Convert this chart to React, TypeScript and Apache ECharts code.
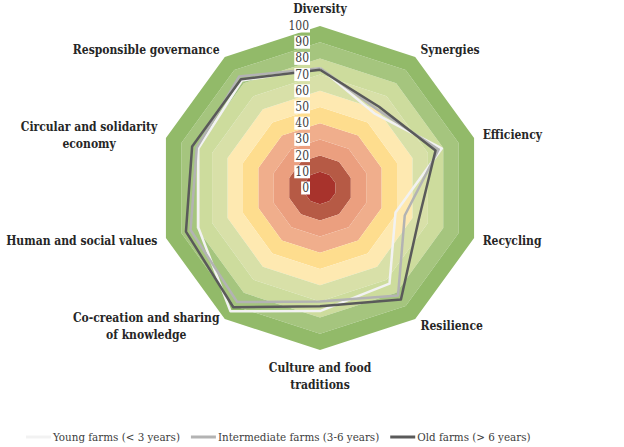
import React, { useEffect, useRef } from "react";
import * as echarts from "echarts";

const indicatorNames = [
  "Diversity",
  "Synergies",
  "Efficiency",
  "Recycling",
  "Resilience",
  "Culture and food\ntraditions",
  "Co-creation and sharing\nof knowledge",
  "Human and social values",
  "Circular and solidarity\neconomy",
  "Responsible governance",
];
const seriesNames = [
  "Young farms (< 3 years)",
  "Intermediate farms (3-6 years)",
  "Old farms (> 6 years)",
];
const young = [74, 57, 79, 49, 73, 76, 94, 79, 79, 82];
const intermediate = [74, 60, 77, 55, 82, 70, 87, 84, 80, 85];
const old = [73, 62, 75, 64, 85, 73, 91, 87, 83, 83];
const seriesColors = ["#f2f2f2", "#b3b3b3", "#5a5a5a"];
const bandColors = [
  "#a8332c",
  "#b65a45",
  "#eb9f7f",
  "#f0ae8c",
  "#fedd8e",
  "#fee9b1",
  "#d8e0a8",
  "#cddc9d",
  "#a5c57e",
  "#92ba69",
];
const scaleMax = 100;
const scaleStep = 10;

// ECharts places radar indicators counter-clockwise; reference is clockwise
const order = [0, 9, 8, 7, 6, 5, 4, 3, 2, 1];
const reorder = (arr: any[]) => order.map((i) => arr[i]);

export default function App() {
  const ref = useRef<HTMLDivElement>(null);
  useEffect(() => {
    document.body.style.margin = "0";
    const chart = echarts.init(ref.current!, undefined, { renderer: "svg" });
    const allValues = [young, intermediate, old];
    const font = "DejaVu Serif Condensed";
    chart.setOption({
      animation: false,
      backgroundColor: "#ffffff",
      legend: {
        left: 21,
        top: 426,
        itemWidth: 25,
        itemHeight: 3,
        itemGap: 11,
        icon: "rect",
        data: seriesNames,
        textStyle: { fontFamily: font, fontSize: 11.5, color: "#404040", padding: [0, 0, 0, -3] },
      },
      radar: {
        center: [320, 188],
        radius: 162,
        startAngle: 90,
        splitNumber: 10,
        shape: "polygon",
        indicator: reorder(indicatorNames).map((n) => ({ name: n, min: 0, max: scaleMax })),
        axisLine: { show: false },
        axisTick: { show: false },
        axisLabel: { show: false },
        splitLine: { show: false },
        splitArea: { show: true, areaStyle: { color: bandColors } },
        nameGap: 9,
        axisName: {
          fontFamily: font,
          fontWeight: "bold",
          fontSize: 12,
          color: "#262626",
          formatter: (name: string) =>
            name
              .split("\n")
              .map((s) => `{a|${s}}`)
              .join("\n"),
          rich: {
            a: {
              align: "center",
              fontFamily: font,
              fontWeight: "bold",
              fontSize: 12,
              lineHeight: 17,
              color: "#262626",
            },
          },
        },
      },
      polar: { center: [320, 188], radius: 162 },
      angleAxis: { type: "value", startAngle: 90, min: 0, max: 360, show: false },
      radiusAxis: {
        type: "value",
        min: 0,
        max: scaleMax,
        interval: scaleStep,
        z: 10,
        axisLine: { show: false },
        axisTick: { show: false },
        splitLine: { show: false },
        axisLabel: {
          fontFamily: font,
          fontSize: 12,
          color: "#404040",
          backgroundColor: "#ffffff",
          padding: [1, 1, 0, 1],
          margin: 10,
        },
      },
      series: [
        {
          type: "radar",
          symbol: "none",
          z: 3,
          data: allValues.map((vals, k) => ({
            name: seriesNames[k],
            value: reorder(vals),
            itemStyle: { color: seriesColors[k] },
            lineStyle: { color: seriesColors[k], width: 2.5 },
          })),
        },
      ],
    });
    return () => chart.dispose();
  }, []);
  return <div ref={ref} style={{ width: 624, height: 447 }} />;
}
